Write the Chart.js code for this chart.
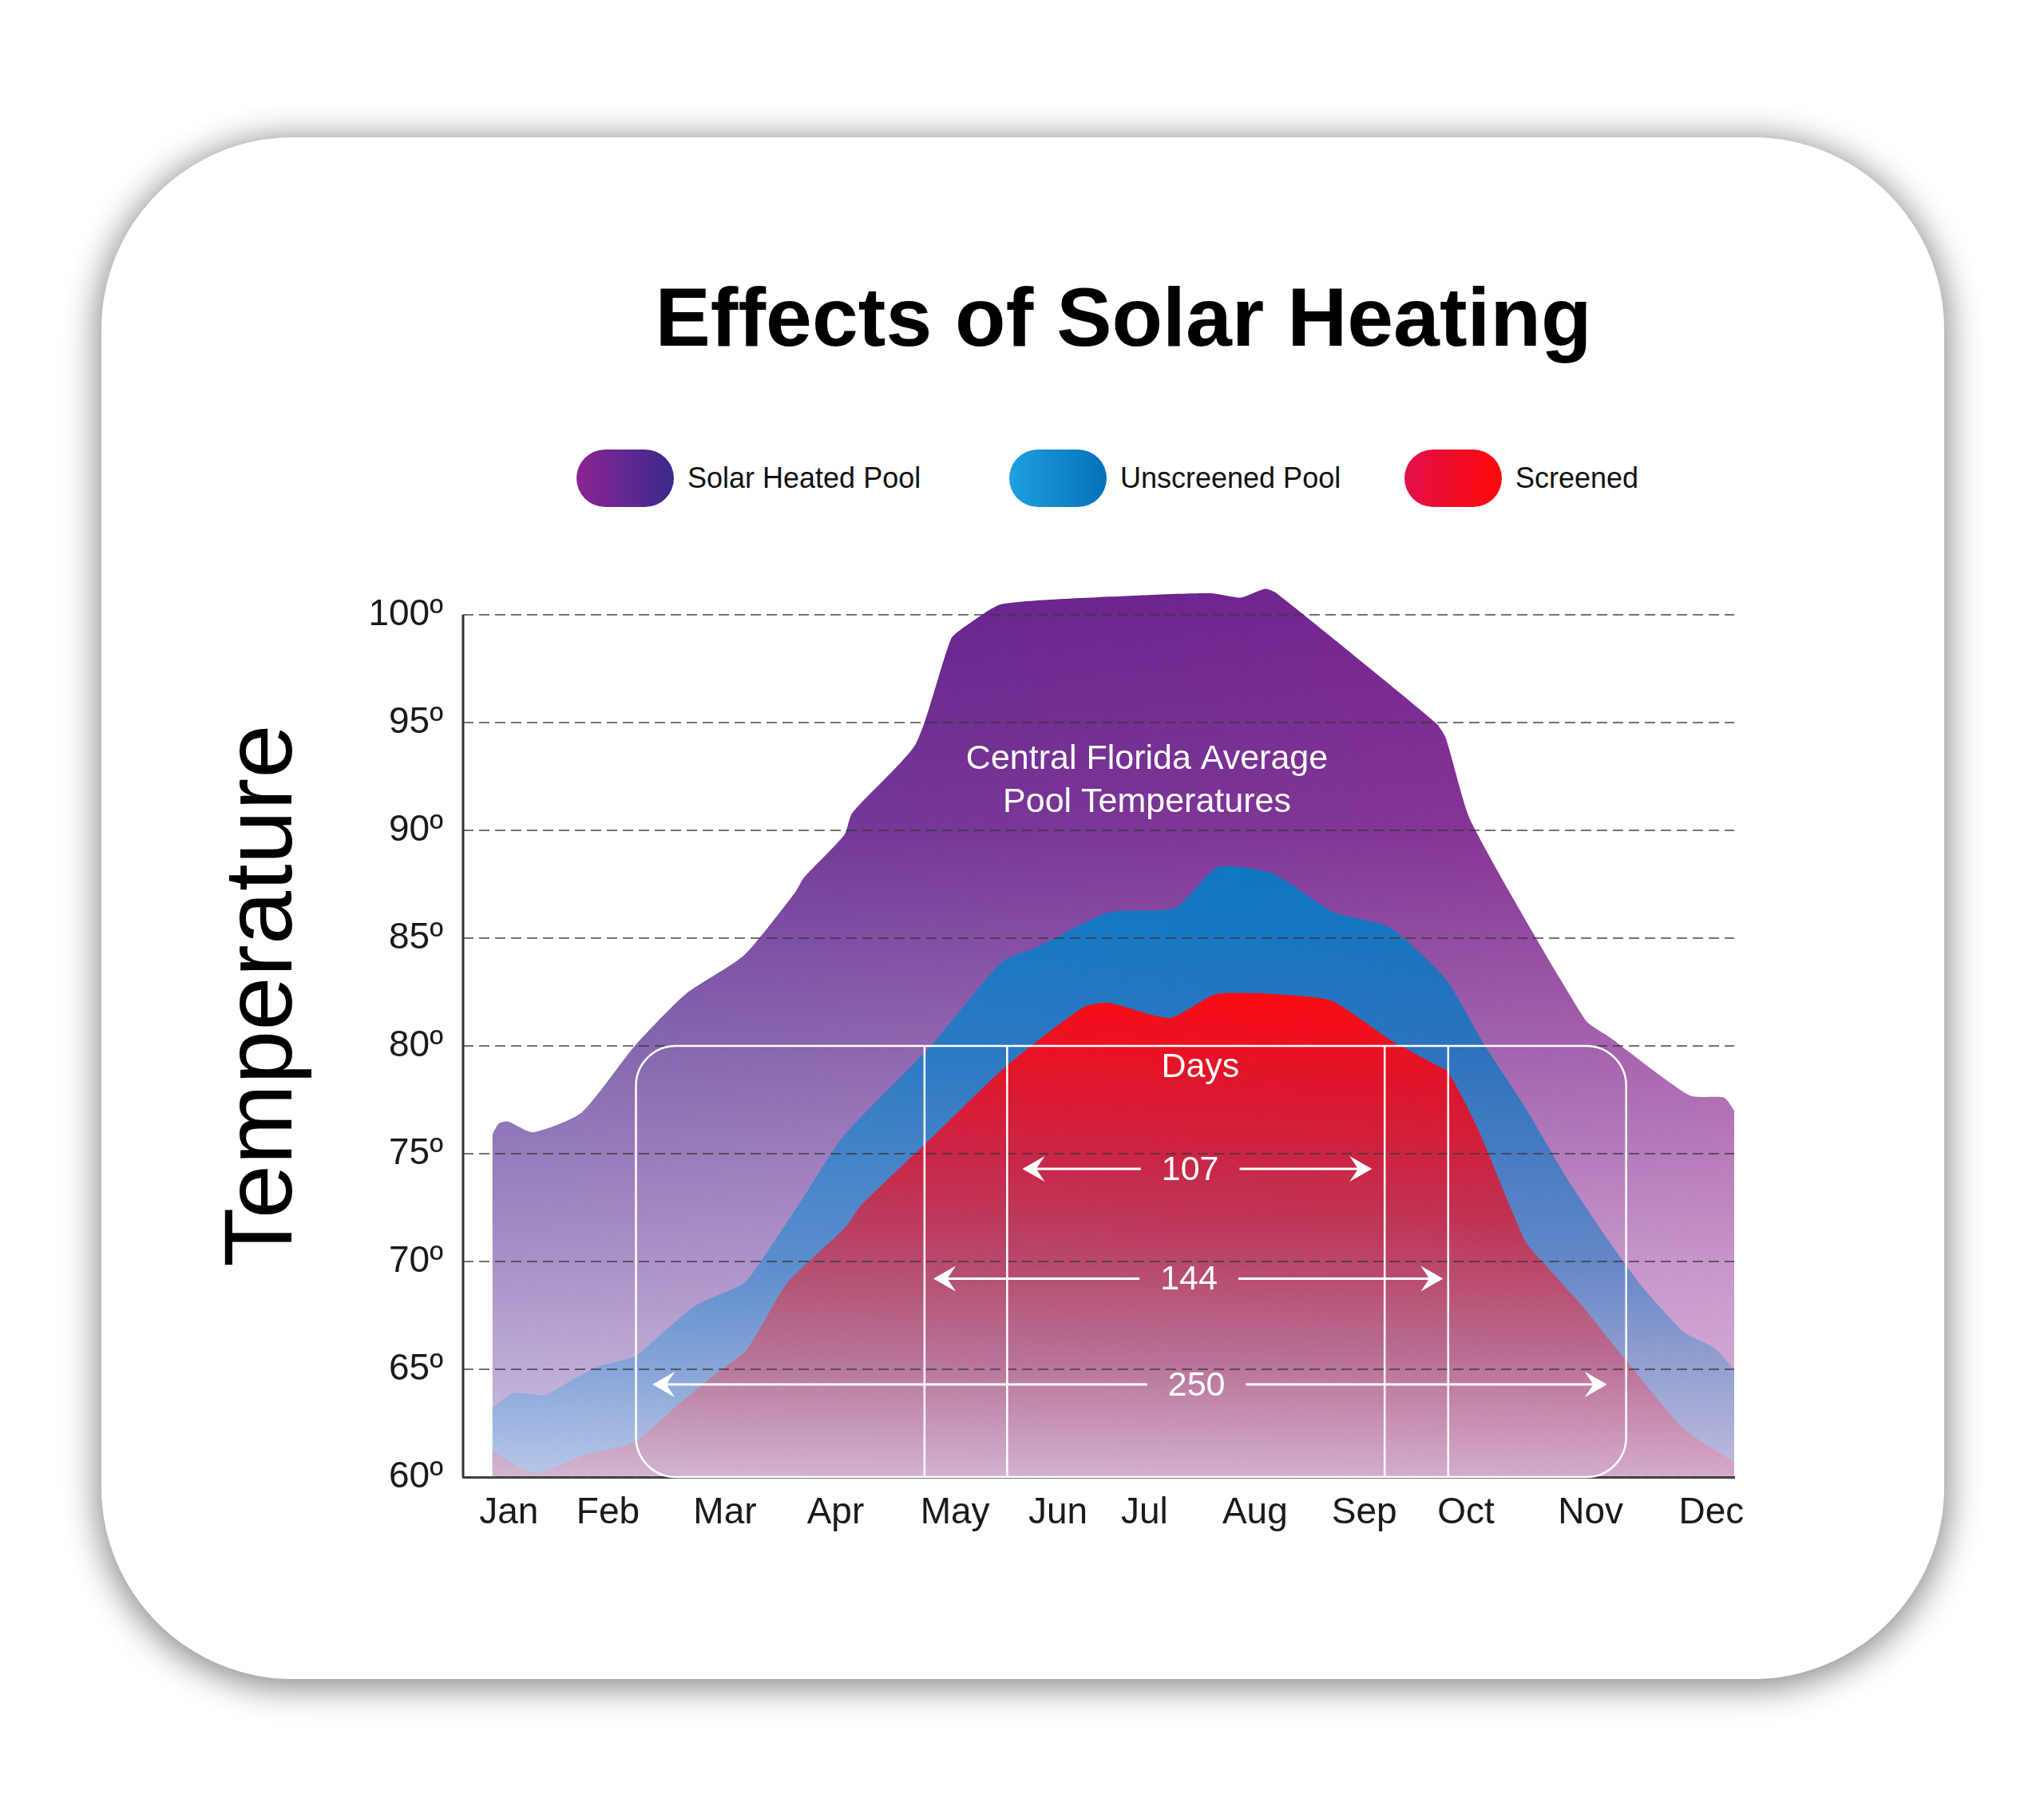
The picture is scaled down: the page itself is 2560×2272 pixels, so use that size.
<!DOCTYPE html>
<html>
<head>
<meta charset="utf-8">
<title>Effects of Solar Heating</title>
<script src="https://cdn.jsdelivr.net/npm/chart.js@4.4.1/dist/chart.umd.min.js"></script>
<style>
    body {
        margin: 0;
        width: 2560px;
        height: 2272px;
        background: #fff;
        position: relative;
        overflow: hidden;
        font-family: 'Liberation Sans', Arial, sans-serif;
    }
    #card {
        position: absolute;
        left: 127px;
        top: 172px;
        width: 2308px;
        height: 1931px;
        border-radius: 240px;
        background: #fff;
        box-shadow: 0 6px 42px 6px rgba(0, 0, 0, 0.45);
    }
    #title {
        position: absolute;
        left: 607px;
        top: 345px;
        width: 1600px;
        text-align: center;
        font-size: 104px;
        line-height: 104px;
        font-weight: bold;
        color: #000;
    }
    .legend-item {
        position: absolute;
        top: 563px;
        height: 72px;
        display: flex;
        align-items: center;
        font-size: 36px;
        line-height: 36px;
        color: #111;
        white-space: nowrap;
    }
    .legend-item .swatch {
        width: 122px;
        height: 72px;
        border-radius: 36px;
        margin-right: 17px;
    }
    #ytitle {
        position: absolute;
        left: 323px;
        top: 1247px;
        transform: translate(-50%, -50%) rotate(-90deg);
        font-size: 121px;
        line-height: 121px;
        color: #000;
        white-space: nowrap;
    }
    #chart {
        position: absolute;
        left: 0;
        top: 0;
    }
</style>
</head>
<body>
<div id="card"></div>
<div id="title">Effects of Solar Heating</div>
<div id="legend"></div>
<div id="ytitle">Temperature</div>
<canvas id="chart" width="2560" height="2272"></canvas>

<script>
// Month labels and where they sit along the x axis (0 = y axis, 100 = right end)
const months = ['Jan', 'Feb', 'Mar', 'Apr', 'May', 'Jun', 'Jul', 'Aug', 'Sep', 'Oct', 'Nov', 'Dec'];
const monthPos = [3.6, 11.4, 20.6, 29.3, 38.7, 46.8, 53.6, 62.3, 70.9, 78.9, 88.7, 98.2];

const yTicks = [60, 65, 70, 75, 80, 85, 90, 95, 100];

const seriesNames = ['Solar Heated Pool', 'Unscreened Pool', 'Screened'];

// Solar heated pool (purple)
const solarX = [2.3, 2.8, 3.5, 5.5, 9.3, 13.5, 17.5, 22.1, 26.1, 26.8, 30.0, 30.6, 35.6, 38.4, 39.6, 42.4,
    53.2, 58.8, 61.2, 63.1, 64.0, 76.5, 77.3, 79.3, 88.3, 90.2, 96.5, 99.2, 100];
const solarTemp = [75.9, 76.4, 76.5, 76.0, 76.9, 80.0, 82.4, 84.2, 87.1, 87.8, 89.8, 90.8, 94.0, 98.9, 99.5, 100.5,
    100.9, 101.0, 100.8, 101.2, 101.0, 95.0, 94.3, 90.4, 81.2, 80.4, 77.7, 77.6, 77.0];

// Unscreened pool (blue)
const unscreenedX = [2.3, 3.9, 6.4, 8.0, 10.5, 13.5, 15.9, 18.4, 22.1, 24.1, 26.8, 29.9, 36.8, 42.4, 45.2,
    50.8, 56.0, 59.4, 63.7, 68.5, 72.9, 77.3, 80.4, 83.5, 86.9, 90.2, 92.8, 96.1, 98.4, 100];
const unscreenedTemp = [63.2, 63.9, 63.8, 64.3, 65.1, 65.6, 66.8, 68.0, 69.0, 70.6, 73.0, 75.8, 80.0, 83.9, 84.6,
    86.2, 86.4, 88.3, 88.0, 86.2, 85.5, 83.1, 80.0, 77.2, 73.8, 70.9, 68.8, 66.7, 66.0, 65.0];

// Screened pool (red)
const screenedX = [2.3, 5.6, 9.4, 13.4, 16.8, 19.9, 22.3, 25.5, 30.1, 31.3, 36.8, 42.8, 48.8, 50.8, 55.6,
    59.2, 64.0, 68.3, 72.9, 76.6, 77.5, 79.8, 83.6, 85.2, 88.1, 91.5, 96.1, 100];
const screenedTemp = [61.2, 60.2, 61.0, 61.6, 63.3, 64.8, 65.9, 69.0, 71.6, 72.6, 75.7, 79.1, 81.8, 82.0, 81.3,
    82.4, 82.4, 82.1, 80.3, 79.1, 78.8, 76.2, 70.9, 69.8, 67.9, 65.4, 62.2, 60.7];

// "Days" box overlay
const daysBoxX = [13.6, 91.5];
const daysBoxTemp = [80, 60];
const dividerX = [36.3, 42.8, 72.5, 77.5];
const spanDays = ['107', '144', '250'];
const spanFrom = [44.0, 37.0, 14.9];
const spanTo = [71.5, 77.1, 90.0];
const spanTemp = [74.3, 69.2, 64.3];
const spanLabelX = [57.2, 57.1, 57.7];

// Colour fields (left edge / right edge stops by temperature)
const fills = [
    {
        left: [[102, '#58268c'], [90, '#6a3a9a'], [80, '#8068b0'], [70, '#a692c8'], [60, '#d2c6e4']],
        right: [[102, '#7e2290'], [90, '#8c3494'], [80, '#a862ad'], [70, '#c895c9'], [60, '#dcb8dc']],
        legend: 'linear-gradient(90deg, #8c2494, #3a2a8c)'
    },
    {
        left: [[90, '#0c7cc6'], [80, '#2a80c8'], [70, '#5890d0'], [65, '#86a6da'], [60, '#b8c8e8']],
        right: [[90, '#0876c0'], [80, '#2c6eba'], [70, '#6686c6'], [65, '#96a0d0'], [60, '#c0bcdf']],
        legend: 'linear-gradient(90deg, #1ea0e0, #0570b8)'
    },
    {
        left: [[83, '#ff0a10'], [75, '#c8284e'], [70, '#b24f72'], [65, '#b67c9e'], [60, '#d2b8d4']],
        right: [[83, '#ff0a10'], [78, '#dc1428'], [72, '#c03050'], [66, '#b8688e'], [60, '#d4aacb']],
        legend: 'linear-gradient(90deg, #e0104a, #ff0a08)'
    }
];
const legendLeft = [722, 1264, 1759];

// HTML legend
const legendEl = document.getElementById('legend');
seriesNames.forEach((name, i) => {
    const item = document.createElement('div');
    item.className = 'legend-item';
    item.style.left = legendLeft[i] + 'px';
    const sw = document.createElement('div');
    sw.className = 'swatch';
    sw.style.background = fills[i].legend;
    item.appendChild(sw);
    item.appendChild(document.createTextNode(name));
    legendEl.appendChild(item);
});

function points(xs, ts) {
    return xs.map((x, i) => ({ x: x, y: ts[i] }));
}

// Paint a bilinear colour field into an offscreen canvas and use it as a pattern
const fillCache = {};
function columnGradient(g, chart, stops) {
    const area = chart.chartArea;
    const y = chart.scales.y;
    const grad = g.createLinearGradient(0, area.top, 0, area.bottom);
    stops.forEach(([t, c]) => {
        const off = (y.getPixelForValue(t) - area.top) / (area.bottom - area.top);
        grad.addColorStop(Math.min(1, Math.max(0, off)), c);
    });
    return grad;
}
function getFill(chart, idx) {
    const area = chart.chartArea;
    const key = idx + ':' + area.left + ':' + area.top + ':' + area.right + ':' + area.bottom;
    if (fillCache[key]) return fillCache[key];
    const W = chart.canvas.width, H = chart.canvas.height;
    const base = document.createElement('canvas');
    base.width = W; base.height = H;
    const g = base.getContext('2d');
    g.fillStyle = columnGradient(g, chart, fills[idx].left);
    g.fillRect(area.left, area.top, area.right - area.left, area.bottom - area.top);

    const over = document.createElement('canvas');
    over.width = W; over.height = H;
    const g2 = over.getContext('2d');
    g2.fillStyle = columnGradient(g2, chart, fills[idx].right);
    g2.fillRect(area.left, area.top, area.right - area.left, area.bottom - area.top);
    g2.globalCompositeOperation = 'destination-in';
    const mask = g2.createLinearGradient(area.left, 0, area.right, 0);
    mask.addColorStop(0, 'rgba(0,0,0,0)');
    mask.addColorStop(1, 'rgba(0,0,0,1)');
    g2.fillStyle = mask;
    g2.fillRect(area.left, area.top, area.right - area.left, area.bottom - area.top);

    g.drawImage(over, 0, 0);
    const pattern = chart.ctx.createPattern(base, 'no-repeat');
    fillCache[key] = pattern;
    return pattern;
}
function fillFor(idx, fallback) {
    return (context) => {
        const chart = context.chart;
        if (!chart.chartArea || !chart.scales.y) return fallback;
        return getFill(chart, idx);
    };
}

// Y axis line only between the first and last tick, then the white "Days" box
const daysOverlay = {
    id: 'daysOverlay',
    afterDraw(chart) {
        const ctx = chart.ctx;
        const xs = chart.scales.x, ys = chart.scales.y;
        const px = v => xs.getPixelForValue(v);
        const py = v => ys.getPixelForValue(v);
        ctx.save();

        ctx.strokeStyle = '#333';
        ctx.lineWidth = 3;
        ctx.beginPath();
        ctx.moveTo(chart.chartArea.left, py(yTicks[yTicks.length - 1]));
        ctx.lineTo(chart.chartArea.left, py(yTicks[0]));
        ctx.stroke();

        ctx.strokeStyle = '#fff';
        ctx.fillStyle = '#fff';

        // rounded box
        ctx.lineWidth = 2.5;
        ctx.beginPath();
        ctx.roundRect(px(daysBoxX[0]), py(daysBoxTemp[0]), px(daysBoxX[1]) - px(daysBoxX[0]),
            py(daysBoxTemp[1]) - py(daysBoxTemp[0]), 50);
        ctx.stroke();

        // month dividers
        dividerX.forEach(v => {
            ctx.beginPath();
            ctx.moveTo(px(v), py(daysBoxTemp[0]));
            ctx.lineTo(px(v), py(daysBoxTemp[1]));
            ctx.stroke();
        });

        ctx.font = "43px 'Liberation Sans', Arial, sans-serif";
        ctx.textAlign = 'center';
        ctx.textBaseline = 'middle';
        ctx.fillText('Days', px(58.0), py(79.0));
        ctx.fillText('Central Florida Average', px(53.8), py(93.3));
        ctx.fillText('Pool Temperatures', px(53.8), py(91.3));

        // arrows
        const L = 28, H = 16, gap = 26;
        const head = (x, y, dir) => {
            ctx.beginPath();
            ctx.moveTo(x, y);
            ctx.lineTo(x - dir * L, y - H);
            ctx.lineTo(x - dir * L * 0.62, y);
            ctx.lineTo(x - dir * L, y + H);
            ctx.closePath();
            ctx.fill();
        };
        ctx.lineWidth = 3;
        spanDays.forEach((label, i) => {
            const y = py(spanTemp[i]);
            const x1 = px(spanFrom[i]), x2 = px(spanTo[i]), cx = px(spanLabelX[i]);
            const w = ctx.measureText(label).width;
            ctx.beginPath();
            ctx.moveTo(x1 + L * 0.6, y);
            ctx.lineTo(cx - w / 2 - gap, y);
            ctx.moveTo(cx + w / 2 + gap, y);
            ctx.lineTo(x2 - L * 0.6, y);
            ctx.stroke();
            head(x1, y, -1);
            head(x2, y, 1);
            ctx.fillText(label, cx, y + 2);
        });
        ctx.restore();
    }
};

Chart.defaults.font.family = "'Liberation Sans', Arial, sans-serif";

const chart = new Chart(document.getElementById('chart'), {
    type: 'line',
    data: {
        datasets: [{
            label: seriesNames[2],
            data: points(screenedX, screenedTemp),
            backgroundColor: fillFor(2, '#e0102a'),
            fill: 'start',
            order: 1
        }, {
            label: seriesNames[1],
            data: points(unscreenedX, unscreenedTemp),
            backgroundColor: fillFor(1, '#1a80c8'),
            fill: 'start',
            order: 2
        }, {
            label: seriesNames[0],
            data: points(solarX, solarTemp),
            backgroundColor: fillFor(0, '#7a3a9a'),
            fill: 'start',
            order: 3
        }]
    },
    options: {
        responsive: false,
        devicePixelRatio: 1,
        animation: false,
        layout: {
            padding: { left: 400, right: 388, top: 716, bottom: 341 }
        },
        elements: {
            line: { borderWidth: 0, tension: 0.2 },
            point: { radius: 0 }
        },
        plugins: {
            legend: { display: false },
            tooltip: { enabled: false }
        },
        scales: {
            x: {
                type: 'linear',
                min: 0,
                max: 100,
                afterBuildTicks: scale => {
                    scale.ticks = monthPos.map(v => ({ value: v }));
                },
                afterFit: scale => { scale.height = 81; },
                ticks: {
                    autoSkip: false,
                    maxRotation: 0,
                    padding: 10,
                    color: '#1a1a1a',
                    font: { size: 46 },
                    callback: (value, index) => months[index]
                },
                grid: { display: false },
                border: { display: true, color: '#444', width: 3, z: 1 }
            },
            y: {
                min: 60,
                max: 102,
                afterBuildTicks: scale => {
                    scale.ticks = yTicks.map(v => ({ value: v }));
                },
                afterFit: scale => { scale.width = 180; },
                ticks: {
                    padding: 25,
                    color: '#1a1a1a',
                    font: { size: 46 },
                    callback: value => value + 'º'
                },
                grid: {
                    color: 'rgba(55, 55, 55, 0.7)',
                    lineWidth: 2,
                    drawTicks: false,
                    z: 1
                },
                border: { display: false, dash: [13, 7] }
            }
        }
    },
    plugins: [daysOverlay]
});
</script>
</body>
</html>
